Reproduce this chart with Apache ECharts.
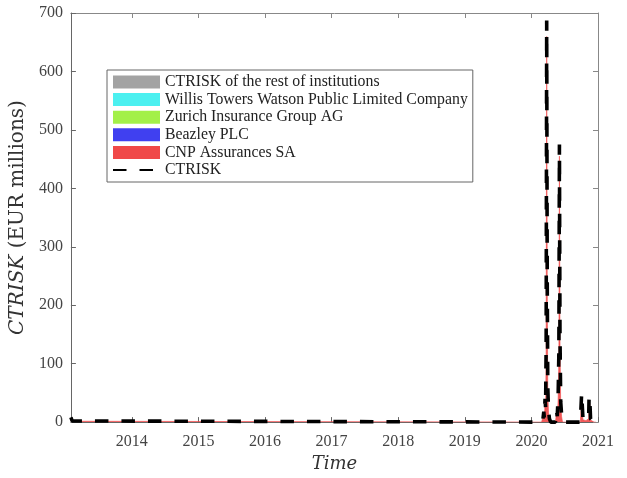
<!DOCTYPE html>
<html>
<head>
<meta charset="utf-8">
<script src="https://cdn.jsdelivr.net/npm/echarts@6/dist/echarts.min.js"></script>
<style>html,body{margin:0;padding:0;background:#fff;}#c{width:627px;height:478px;}</style>
</head>
<body>
<div id="c"></div>
<script>
var dates = ['2013-02-01','2013-02-08','2013-02-15','2020-02-26','2020-03-04','2020-03-09','2020-03-12','2020-03-16','2020-03-19','2020-03-22','2020-03-25','2020-03-28','2020-03-31','2020-04-04','2020-04-09','2020-04-16','2020-05-12','2020-05-18','2020-05-22','2020-05-27','2020-05-31','2020-06-03','2020-06-06','2020-06-10','2020-06-15','2020-06-20','2020-09-26','2020-10-01','2020-10-03','2020-10-07','2020-10-10','2020-10-17','2020-10-27','2020-11-06','2020-11-11','2020-11-13','2020-11-17','2020-11-21','2020-11-30','2020-12-10','2020-12-20'];
var ctrisk  = [8,2,0,0,4,18,8,40,25,130,687,240,60,20,6,0,0,20,10,45,120,475,150,35,12,0,0,3,49,46,8,4,6,5,10,44,38,6,2,0,0];
var cnp     = [6,1.5,0,0,2.5,14,5.5,33,20,120,660,225,53,16,4.5,0,0,16,7,38,110,455,140,30,9,0,0,1.5,38,36,4,1.5,2.5,2,6,36,31,3.5,1,0,0];
var beazley = [1,0.3,0,0,1.2,3,2,5,3.5,6,15,9,4.5,3,1,0,0,3,2.5,5,6,12,6,3.5,2.3,0,0,1.2,8,7.5,3.3,2.2,3,2.6,3.3,6,5.3,2,0.8,0,0];
var zurich  = [0.5,0.1,0,0,0.2,0.5,0.3,1,0.8,2,6,3,1.3,0.5,0.3,0,0,0.5,0.3,1,2,4,2,0.8,0.4,0,0,0.2,1.5,1.2,0.4,0.2,0.3,0.2,0.4,1,0.9,0.3,0.1,0,0];
var willis  = [0.3,0.05,0,0,0.05,0.3,0.1,0.5,0.4,1,3,1.5,0.7,0.3,0.1,0,0,0.3,0.1,0.5,1,2,1,0.4,0.2,0,0,0.05,0.8,0.7,0.2,0.05,0.1,0.1,0.2,0.5,0.4,0.1,0.05,0,0];
var rest    = [0.2,0.05,0,0,0.05,0.2,0.1,0.5,0.3,1,3,1.5,0.5,0.2,0.1,0,0,0.2,0.1,0.5,1,2,1,0.3,0.1,0,0,0.05,0.7,0.6,0.1,0.05,0.1,0.1,0.1,0.5,0.4,0.1,0.05,0,0];
var yearTicks = [2014, 2015, 2016, 2017, 2018, 2019, 2020, 2021];
var xMinDate = '2013-02-01', xMaxDate = '2021-01-01';

var names = {
  rest: 'CTRISK of the rest of institutions',
  willis: 'Willis Towers Watson Public Limited Company',
  zurich: 'Zurich Insurance Group AG',
  beazley: 'Beazley PLC',
  cnp: 'CNP Assurances SA',
  total: 'CTRISK'
};
var colors = {rest:'#a3a3a3', willis:'#4cf0f0', zurich:'#a3f048', beazley:'#4040f0', cnp:'#f04848'};

function decYear(d){
  var t = new Date(d + 'T00:00:00Z');
  var y = t.getUTCFullYear();
  var s = Date.UTC(y,0,1), e = Date.UTC(y+1,0,1);
  return y + (t.getTime() - s) / (e - s);
}
var xMin = decYear(xMinDate), xMax = decYear(xMaxDate);
function pairs(arr){ return dates.map(function(d,i){ return [decYear(d), arr[i]]; }); }
function area(key, arr){
  return {
    name: names[key], type: 'line', stack: 'contrib', data: pairs(arr),
    symbol: 'none', lineStyle: {width: 0.6, color: colors[key]},
    itemStyle: {color: colors[key]},
    areaStyle: {color: colors[key], opacity: 0.9}, z: 2
  };
}
var serif = 'Liberation Serif';
var wide = 'DejaVu Serif';

var chart = echarts.init(document.getElementById('c'), null, {renderer: 'canvas'});
chart.setOption({
  animation: false,
  backgroundColor: '#fff',
  grid: {left: 70, right: 29, top: 13, bottom: 51},
  legend: {
    orient: 'vertical', left: 107, top: 70,
    backgroundColor: '#fff', borderColor: '#666', borderWidth: 1,
    padding: [4, 5, 4, 5], itemWidth: 47, itemHeight: 13, itemGap: 1.6,
    textStyle: {fontFamily: serif, fontSize: 15.8, color: '#222'},
    data: [
      {name: names.rest, icon: 'rect'},
      {name: names.willis, icon: 'rect'},
      {name: names.zurich, icon: 'rect'},
      {name: names.beazley, icon: 'rect'},
      {name: names.cnp, icon: 'rect'},
      {name: names.total, itemStyle: {opacity: 0}}
    ]
  },
  xAxis: [{
    type: 'value', min: xMin, max: xMax, position: 'bottom',
    name: 'Time', nameLocation: 'middle', nameGap: 29,
    nameTextStyle: {fontFamily: wide, fontSize: 18, fontStyle: 'italic', color: '#333'},
    axisLine: {show: true, onZero: false, lineStyle: {color: '#666', width: 1}},
    axisTick: {show: true, inside: true, length: 5, customValues: yearTicks, lineStyle: {color: '#666'}},
    axisLabel: {show: true, customValues: yearTicks, fontFamily: serif, fontSize: 16, color: '#444', margin: 12,
      formatter: function(v){ return String(Math.round(v)); }},
    splitLine: {show: false}
  }, {
    type: 'value', min: xMin, max: xMax, position: 'top',
    axisLine: {show: true, onZero: false, lineStyle: {color: '#888', width: 1}},
    axisTick: {show: true, inside: true, length: 5, customValues: yearTicks, lineStyle: {color: '#888'}},
    axisLabel: {show: false}, splitLine: {show: false}
  }],
  yAxis: [{
    type: 'value', min: 0, max: 700, interval: 100, position: 'left',
    name: '{i|CTRISK} (EUR millions)', nameLocation: 'middle', nameGap: 33,
    nameTextStyle: {fontFamily: wide, fontSize: 20, color: '#333',
      rich: {i: {fontFamily: wide, fontSize: 20, fontStyle: 'italic', color: '#333'}}},
    axisLine: {show: true, onZero: false, lineStyle: {color: '#666', width: 1}},
    axisTick: {show: true, inside: true, length: 5, lineStyle: {color: '#666'}},
    axisLabel: {fontFamily: serif, fontSize: 16, color: '#444', margin: 8},
    splitLine: {show: false}
  }, {
    type: 'value', min: 0, max: 700, interval: 100, position: 'right',
    axisLine: {show: true, onZero: false, lineStyle: {color: '#888', width: 1}},
    axisTick: {show: true, inside: true, length: 5, lineStyle: {color: '#888'}},
    axisLabel: {show: false}, splitLine: {show: false}
  }],
  series: [
    area('cnp', cnp),
    area('beazley', beazley),
    area('zurich', zurich),
    area('willis', willis),
    area('rest', rest),
    {
      name: names.total, type: 'line', data: pairs(ctrisk), symbol: 'none',
      lineStyle: {color: '#000', width: 3.6, type: [13.5, 13], cap: 'butt'},
      itemStyle: {color: '#000'}, z: 5
    }
  ]
});
</script>
</body>
</html>
